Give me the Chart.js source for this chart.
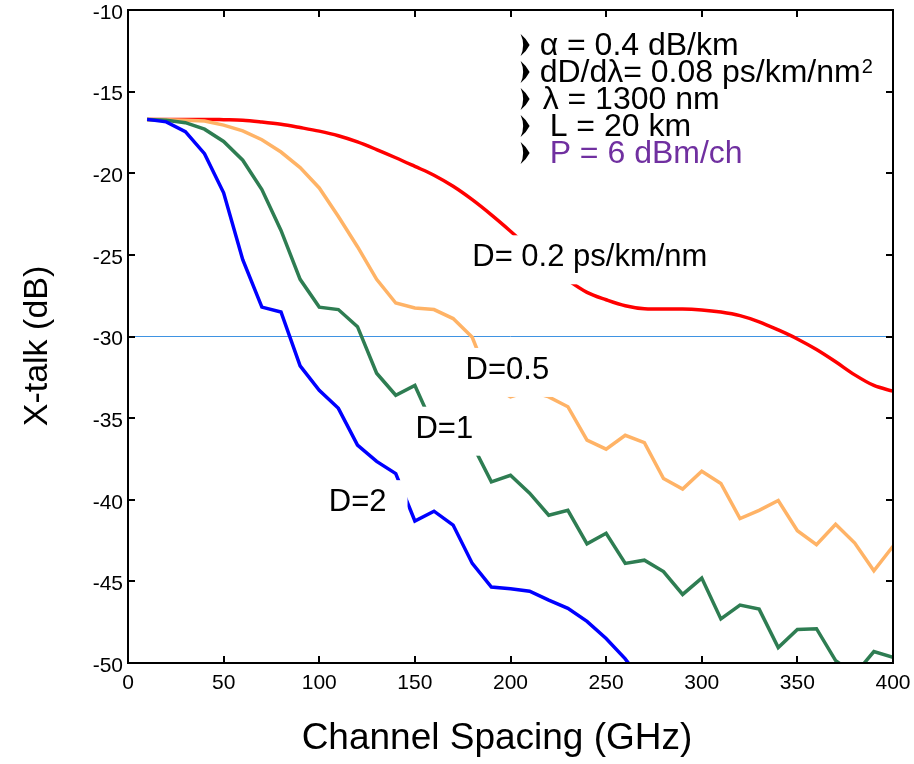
<!DOCTYPE html>
<html>
<head>
<meta charset="utf-8">
<script src="https://cdn.jsdelivr.net/npm/chart.js@4.4.1/dist/chart.umd.min.js"></script>
<style>
  html, body { margin: 0; padding: 0; background: #fff; }
</style>
</head>
<body>
<canvas id="chart-xtalk" width="914" height="764"></canvas>
<script>
// ===== X-talk vs channel spacing, 4 dispersion values =====

const SPACING = [10, 20, 30, 40, 50, 60, 70, 80, 90, 100, 110, 120, 130, 140, 150, 160, 170, 180, 190, 200,
                 210, 220, 230, 240, 250, 260, 270, 280, 290, 300, 310, 320, 330, 340, 350, 360, 370, 380, 390, 400];

// D = 0.2 ps/km/nm
const XT_D02 = [-16.7, -16.7, -16.7, -16.7, -16.72, -16.75, -16.86, -17.0, -17.2, -17.42,
                -17.7, -18.08, -18.55, -19.05, -19.58, -20.12, -20.8, -21.62, -22.55, -23.55,
                -24.6, -25.65, -26.55, -27.3, -27.75, -28.12, -28.3, -28.32, -28.32, -28.37,
                -28.5, -28.72, -29.1, -29.6, -30.15, -30.8, -31.55, -32.35, -33.0, -33.35];
// D = 0.5
const XT_D05 = [-16.7, -16.72, -16.75, -16.8, -17.05, -17.4, -17.95, -18.7, -19.65, -20.9,
                -22.65, -24.5, -26.5, -27.95, -28.25, -28.35, -28.9, -30.05, -33.0, -33.7,
                -33.35, -33.7, -34.3, -36.35, -36.9, -36.05, -36.5, -38.7, -39.35, -38.25,
                -39.0, -41.15, -40.65, -40.05, -41.9, -42.75, -41.5, -42.65, -44.35, -42.85];
// D = 1
const XT_D1 = [-16.7, -16.75, -16.9, -17.3, -18.05, -19.2, -21.0, -23.5, -26.5, -28.2,
               -28.35, -29.4, -32.25, -33.6, -33.0, -35.6, -35.4, -36.6, -38.9, -38.5,
               -39.6, -40.95, -40.65, -42.7, -42.05, -43.9, -43.7, -44.4, -45.8, -44.8,
               -47.3, -46.45, -46.7, -49.05, -47.95, -47.9, -49.85, -50.7, -49.3, -49.65];
// D = 2 (drops below -50 after 260 GHz)
const XT_D2 = [-16.7, -16.85, -17.45, -18.8, -21.2, -25.3, -28.2, -28.5, -31.8, -33.3,
               -34.4, -36.65, -37.65, -38.4, -41.3, -40.7, -41.55, -43.9, -45.35, -45.45,
               -45.6, -46.15, -46.65, -47.45, -48.5, -49.75, -51.3];

// -30 dB reference line
const REF_X = [0, 400];
const REF_Y = [-30, -30];

const FONT = "'Liberation Sans', Arial, Helvetica, sans-serif";

const toPoints = (xs, ys) => ys.map((v, i) => ({ x: xs[i], y: v }));

// bullet like the ones in the parameter list
function drawBullet(ctx, x, yMid) {
  ctx.beginPath();
  ctx.moveTo(x, yMid - 11);
  ctx.quadraticCurveTo(x + 6, yMid - 6, x + 9, yMid);
  ctx.quadraticCurveTo(x + 6, yMid + 6, x, yMid + 11);
  ctx.quadraticCurveTo(x + 5, yMid, x, yMid - 11);
  ctx.fill();
}

const decorPlugin = {
  id: 'xtalkDecor',
  afterDatasetsDraw(chart, args, opts) {
    const { ctx, chartArea: a, scales: { x, y } } = chart;
    ctx.save();

    // curve labels on white boxes
    ctx.font = `${opts.labelSize}px ${FONT}`;
    ctx.textAlign = 'left';
    ctx.textBaseline = 'alphabetic';
    opts.labels.forEach(l => {
      const px = x.getPixelForValue(l.x);
      const py = y.getPixelForValue(l.y);
      const w = ctx.measureText(l.text).width;
      ctx.fillStyle = '#fff';
      ctx.fillRect(px - 7, py - 31, w + 7 + l.padR, 49);
      ctx.fillStyle = '#000';
      ctx.fillText(l.text, px, py);
    });

    // parameter list
    const lx = x.getPixelForValue(opts.legend.x);
    let ly = y.getPixelForValue(opts.legend.y);
    opts.legend.lines.forEach(line => {
      ctx.fillStyle = '#000';
      drawBullet(ctx, lx, ly - 10);
      ctx.font = `${opts.legend.size}px ${FONT}`;
      ctx.fillStyle = line.color || '#000';
      ctx.fillText(line.text, lx + line.dx, ly);
      if (line.sup) {
        const w = ctx.measureText(line.text).width;
        ctx.font = `20px ${FONT}`;
        ctx.fillText(line.sup, lx + line.dx + w + 1, ly - 9);
      }
      ly += opts.legend.step;
    });

    // frame + inward ticks
    ctx.strokeStyle = '#000';
    ctx.lineWidth = 2;
    ctx.strokeRect(a.left, a.top, a.right - a.left, a.bottom - a.top);
    ctx.beginPath();
    x.ticks.forEach(t => {
      const p = Math.round(x.getPixelForValue(t.value));
      ctx.moveTo(p, a.bottom); ctx.lineTo(p, a.bottom - 7);
      ctx.moveTo(p, a.top);    ctx.lineTo(p, a.top + 7);
    });
    y.ticks.forEach(t => {
      const p = Math.round(y.getPixelForValue(t.value));
      ctx.moveTo(a.left, p);  ctx.lineTo(a.left + 7, p);
      ctx.moveTo(a.right, p); ctx.lineTo(a.right - 7, p);
    });
    ctx.stroke();

    // axis titles
    ctx.fillStyle = '#000';
    ctx.textAlign = 'center';
    ctx.font = `37px ${FONT}`;
    ctx.fillText(opts.xTitle, 497, 749);
    ctx.translate(47, 346);
    ctx.rotate(-Math.PI / 2);
    ctx.font = `34px ${FONT}`;
    ctx.fillText(opts.yTitle, 0, 0);

    ctx.restore();
  },
};

const lineStyle = (color, width) => ({
  borderColor: color, backgroundColor: color, borderWidth: width,
  pointRadius: 0, fill: false, tension: 0,
});

new Chart(document.getElementById('chart-xtalk').getContext('2d'), {
  type: 'line',
  data: {
    datasets: [
      { label: 'D=2',   data: toPoints(SPACING, XT_D2),  ...lineStyle('#0000ff', 3.5) },
      { label: 'D=1',   data: toPoints(SPACING, XT_D1),  ...lineStyle('#2e7d52', 3.5) },
      { label: 'D=0.5', data: toPoints(SPACING, XT_D05), ...lineStyle('#ffb366', 3.5) },
      { label: 'D=0.2', data: toPoints(SPACING, XT_D02), ...lineStyle('#ff0000', 3.5), cubicInterpolationMode: 'monotone' },
      { label: '-30 dB', data: toPoints(REF_X, REF_Y), ...lineStyle('#3f93e2', 1) },
    ],
  },
  plugins: [decorPlugin],
  options: {
    responsive: false,
    animation: false,
    layout: { padding: { top: 10, right: 21, left: 0, bottom: 0 } },
    plugins: {
      legend: { display: false },
      tooltip: { enabled: false },
      xtalkDecor: {
        labelSize: 31,
        labels: [
          { text: 'D= 0.2 ps/km/nm', x: 180,   y: -25.7, padR: 8 },
          { text: 'D=0.5',           x: 176.5, y: -32.6, padR: 8 },
          { text: 'D=1',             x: 150.3, y: -36.2, padR: 10 },
          { text: 'D=2',             x: 105,   y: -40.7, padR: 21 },
        ],
        legend: {
          x: 205.3, y: -12.75, step: 27, size: 32,
          lines: [
            { text: 'α = 0.4 dB/km', dx: 19 },
            { text: 'dD/dλ= 0.08 ps/km/nm', sup: '2', dx: 19 },
            { text: 'λ = 1300 nm', dx: 22 },
            { text: 'L = 20 km', dx: 29 },
            { text: 'P = 6 dBm/ch', dx: 29, color: '#7030a0' },
          ],
        },
        xTitle: 'Channel Spacing (GHz)',
        yTitle: 'X-talk (dB)',
      },
    },
    scales: {
      x: {
        type: 'linear', min: 0, max: 400,
        grid: { display: false, drawTicks: false },
        border: { display: false },
        ticks: { stepSize: 50, padding: 8, maxRotation: 0, autoSkip: false, color: '#000', font: { size: 21, family: FONT } },
        afterFit(s) { s.height = 101; s.paddingLeft = 0; s.paddingRight = 0; },
      },
      y: {
        type: 'linear', min: -50, max: -10,
        grid: { display: false, drawTicks: false },
        border: { display: false },
        ticks: { stepSize: 5, padding: 5, labelOffset: 3, autoSkip: false, color: '#000', font: { size: 21, family: FONT } },
        afterFit(s) { s.width = 128; s.paddingTop = 0; s.paddingBottom = 0; },
      },
    },
  },
});
</script>
</body>
</html>
